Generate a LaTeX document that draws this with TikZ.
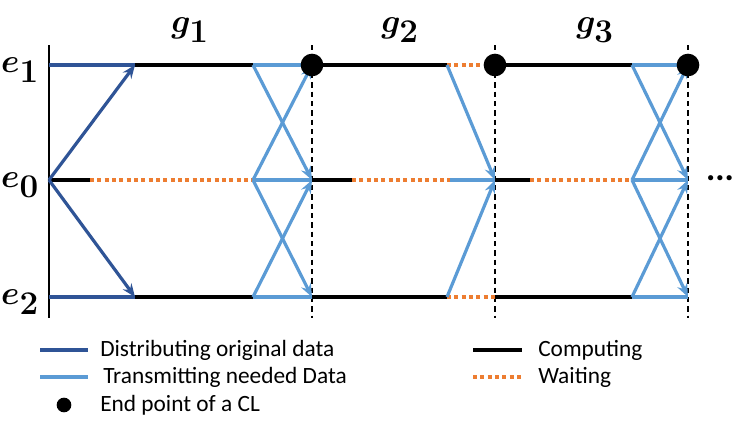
\documentclass[tikz,border=0pt]{standalone}
\usepackage{fontspec}
\setmainfont{Carlito}
\usetikzlibrary{arrows.meta}
\definecolor{distblue}{RGB}{47,84,150}
\definecolor{sendblue}{RGB}{91,155,213}
\definecolor{waitorange}{RGB}{237,125,49}
\tikzset{
  compute/.style={line width=2.4pt, black},
  distribute/.style={line width=2.4pt, distblue},
  transmit/.style={line width=2.4pt, sendblue},
  waiting/.style={line width=2.6pt, waitorange, dash pattern=on 3pt off 2.5pt},
  bound/.style={line width=2.2pt, black, dash pattern=on 4pt off 3pt},
  sendarrow/.style={-{Stealth[length=10pt,width=8pt,inset=3.5pt]}},
  endpoint/.style={circle, fill=black, inner sep=0pt, minimum size=17pt},
  rowlabel/.style={font=\fontsize{34}{34}\selectfont\boldmath},
  legendtext/.style={anchor=west, inner sep=0pt, font=\fontsize{17.5}{19}\selectfont}
}
\begin{document}
\begin{tikzpicture}[x=0.75pt, y=-0.75pt]
    \useasboundingbox (0,0) rectangle (747,433);

    % Row coordinates
    \foreach \r/\y in {1/65, 0/180, 2/297} {
        \foreach \x in {49,90,135,253,312,352,447,450,495,530,632,688} {
            \coordinate (r\r-\x) at (\x,\y);
        }
    }

    % Time axis and group boundaries
    \coordinate (axtop) at (49,45);
    \coordinate (axbot) at (49,318);
    \draw[line width=2.2pt] (axtop) -- (axbot);
    \foreach \x in {312,495,688} {
        \coordinate (bt\x) at (\x,45);
        \coordinate (bb\x) at (\x,318);
        \draw[bound] (bt\x) -- (bb\x);
    }

    % Labels
    \node[rowlabel] (le1) at (20,70) {$e_{1}$};
    \node[rowlabel] (le0) at (20,185) {$e_{0}$};
    \node[rowlabel] (le2) at (20,302) {$e_{2}$};
    \node[rowlabel] (lg1) at (190,30) {$g_{1}$};
    \node[rowlabel] (lg2) at (400,30) {$g_{2}$};
    \node[rowlabel] (lg3) at (595,30) {$g_{3}$};
    \node[font=\fontsize{26}{26}\selectfont\bfseries] (more) at (720,178) {...};

    % Row e1
    \draw[distribute] (r1-49) -- (r1-135);
    \draw[compute] (r1-135) -- (r1-253);
    \draw[transmit] (r1-253) -- (r1-312);
    \draw[compute] (r1-312) -- (r1-447);
    \draw[waiting] (r1-447) -- (r1-495);
    \draw[compute] (r1-495) -- (r1-632);
    \draw[transmit] (r1-632) -- (r1-688);

    % Row e0
    \draw[compute] (r0-49) -- (r0-90);
    \draw[waiting] (r0-90) -- (r0-253);
    \draw[transmit] (r0-253) -- (r0-312);
    \draw[compute] (r0-312) -- (r0-352);
    \draw[waiting] (r0-352) -- (r0-450);
    \draw[transmit] (r0-450) -- (r0-495);
    \draw[compute] (r0-495) -- (r0-530);
    \draw[waiting] (r0-530) -- (r0-632);
    \draw[transmit] (r0-632) -- (r0-688);

    % Row e2
    \draw[distribute] (r2-49) -- (r2-135);
    \draw[compute] (r2-135) -- (r2-253);
    \draw[transmit] (r2-253) -- (r2-312);
    \draw[compute] (r2-312) -- (r2-447);
    \draw[waiting] (r2-447) -- (r2-495);
    \draw[compute] (r2-495) -- (r2-632);
    \draw[transmit] (r2-632) -- (r2-688);

    % Distributing original data
    \draw[distribute, sendarrow] (r0-49) -- (r1-135);
    \draw[distribute, sendarrow] (r0-49) -- (r2-135);

    % Transmitting needed data
    \foreach \a/\b in {253/312, 632/688} {
        \draw[transmit, sendarrow] (r1-\a) -- (r0-\b);
        \draw[transmit, sendarrow] (r0-\a) -- (r1-\b);
        \draw[transmit, sendarrow] (r0-\a) -- (r2-\b);
        \draw[transmit, sendarrow] (r2-\a) -- (r0-\b);
    }
    \draw[transmit, sendarrow] (r1-447) -- (r0-495);
    \draw[transmit, sendarrow] (r2-447) -- (r0-495);

    % End points of CLs
    \foreach \x in {312,495,688} {
        \node[endpoint] (end\x) at (r1-\x) {};
    }

    % Legend
    \coordinate (ld1a) at (40,350); \coordinate (ld1b) at (88,350);
    \coordinate (ld2a) at (40,377); \coordinate (ld2b) at (88,377);
    \coordinate (ld3a) at (473,350); \coordinate (ld3b) at (522,350);
    \coordinate (ld4a) at (473,377); \coordinate (ld4b) at (522,377);
    \draw[distribute] (ld1a) -- (ld1b);
    \draw[transmit] (ld2a) -- (ld2b);
    \draw[compute] (ld3a) -- (ld3b);
    \draw[waiting] (ld4a) -- (ld4b);
    \node[endpoint, minimum size=11pt] (ldot) at (64,405) {};
    \node[legendtext] (t1) at (100,350) {Distributing original data};
    \node[legendtext] (t2) at (103,377) {Transmitting needed Data};
    \node[legendtext] (t3) at (100,405) {End point of a CL};
    \node[legendtext] (t4) at (538,350) {Computing};
    \node[legendtext] (t5) at (538,377) {Waiting};
\end{tikzpicture}
\end{document}
